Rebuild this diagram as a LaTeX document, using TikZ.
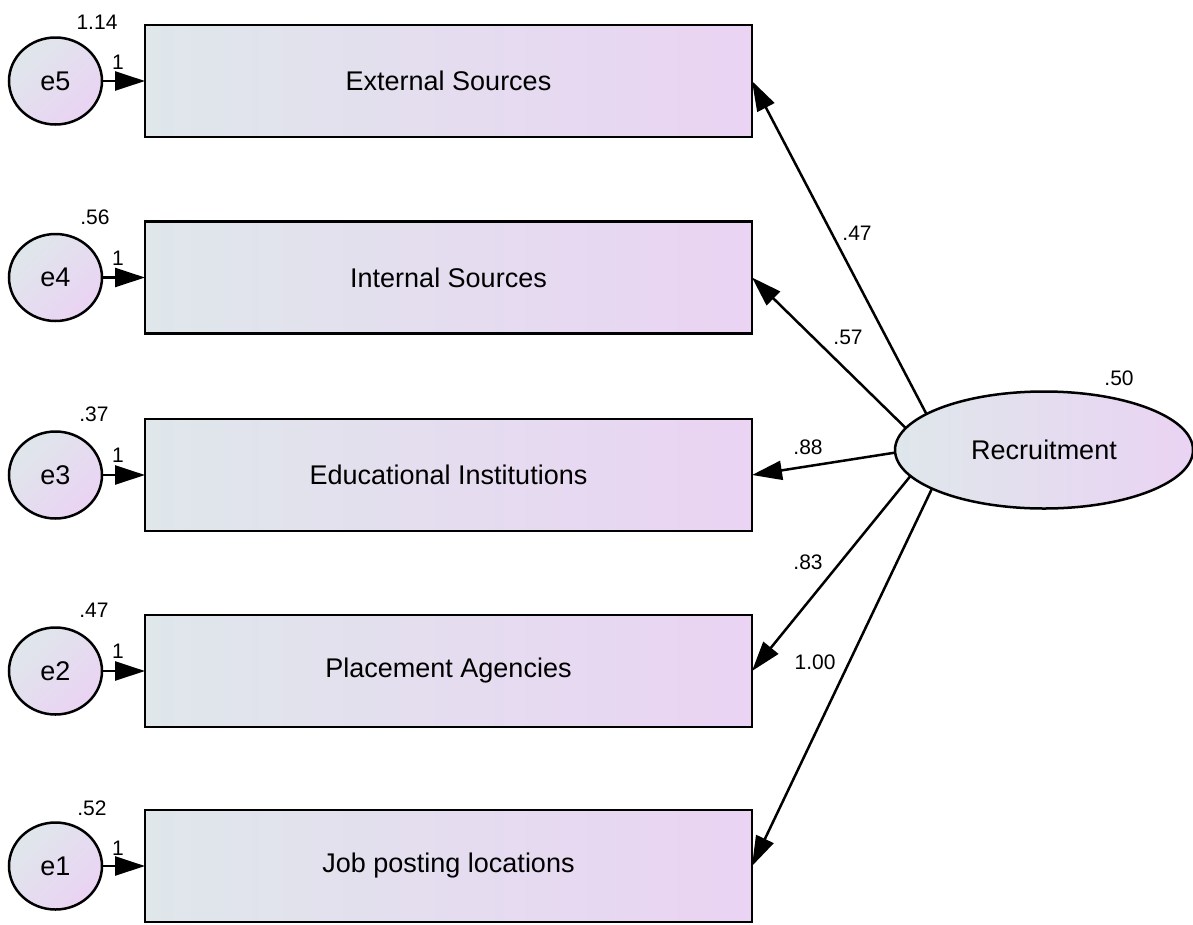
\documentclass[tikz,border=0pt]{standalone}
\usepackage{fontspec}
\setmainfont{Liberation Sans}
\usetikzlibrary{shapes.geometric,arrows.meta}
\definecolor{gleft}{RGB}{223,231,235}
\definecolor{gright}{RGB}{234,211,243}
\tikzset{
  obsbox/.style={rectangle, draw=black, line width=2.5pt, minimum width=607pt, minimum height=112pt, inner sep=0pt, outer sep=0pt, left color=gleft, right color=gright, font=\fontsize{27}{30}\selectfont},
  errnode/.style={ellipse, draw=black, line width=2.5pt, minimum width=93pt, minimum height=87pt, inner sep=0pt, outer sep=0pt, shading=axis, left color=gleft, right color=gright, shading angle=45, font=\fontsize{27}{30}\selectfont},
  latnode/.style={ellipse, draw=black, line width=2.5pt, minimum width=298pt, minimum height=117pt, inner sep=0pt, outer sep=0pt, left color=gleft, right color=gright, font=\fontsize{27}{30}\selectfont},
  path/.style={line width=2.5pt, -{Triangle[length=30pt, width=19pt]}},
  lbl/.style={font=\fontsize{21}{23}\selectfont, inner sep=0pt}
}
\begin{document}
\begin{tikzpicture}[x=1pt,y=-1pt]
\useasboundingbox (0,0) rectangle (1193,924);
% observed boxes
\node[obsbox] (b5) at (448.5,81) {External Sources};
\node[obsbox] (b4) at (448.5,277.5) {Internal Sources};
\node[obsbox] (b3) at (448.5,475) {Educational Institutions};
\node[obsbox] (b2) at (448.5,671) {Placement Agencies};
\node[obsbox] (b1) at (448.5,866) {Job posting locations};
% error terms
\node[errnode] (e5) at (55.5,81) {e5};
\node[errnode] (e4) at (55.5,277.5) {e4};
\node[errnode] (e3) at (55.5,475) {e3};
\node[errnode] (e2) at (55.5,671) {e2};
\node[errnode] (e1) at (55.5,866) {e1};
% latent
\node[latnode] (R) at (1044,450) {Recruitment};
% error paths
\draw[path] (e5.east) -- (b5.west);
\draw[path] (e4.east) -- (b4.west);
\draw[path] (e3.east) -- (b3.west);
\draw[path] (e2.east) -- (b2.west);
\draw[path] (e1.east) -- (b1.west);
% loadings
\draw[path] (R.163) -- (b5.east);
\draw[path] (R.171) -- (b4.east);
\draw[path] (R.181) -- (b3.east);
\draw[path] (R.191) -- (b2.east);
\draw[path] (R.199) -- (b1.east);
% labels
\node[lbl] (l5) at (857,233) {.47};
\node[lbl] (l4) at (848,337) {.57};
\node[lbl] (l3) at (808,447) {.88};
\node[lbl] (l2) at (808,562) {.83};
\node[lbl] (l1) at (815,662) {1.00};
\node[lbl] (vR) at (1119,378) {.50};
\node[lbl] (v5) at (97,22) {1.14};
\node[lbl] (v4) at (95,217) {.56};
\node[lbl] (v3) at (94,414) {.37};
\node[lbl] (v2) at (94,610) {.47};
\node[lbl] (v1) at (92,808) {.52};
\node[lbl] (o5) at (118,62) {1};
\node[lbl] (o4) at (118,258) {1};
\node[lbl] (o3) at (118,455) {1};
\node[lbl] (o2) at (118,651) {1};
\node[lbl] (o1) at (118,848) {1};
\end{tikzpicture}
\end{document}
